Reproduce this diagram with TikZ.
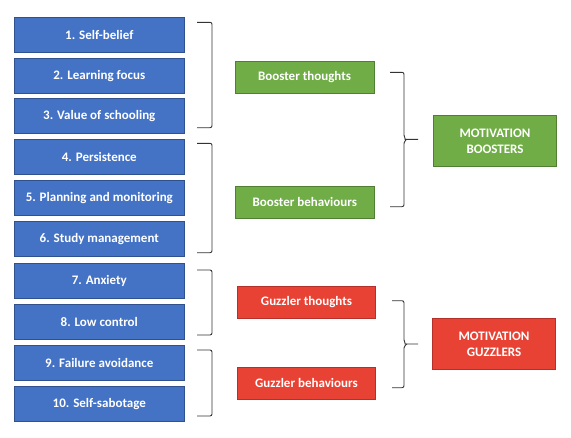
\documentclass[tikz,border=0pt]{standalone}
\usepackage{fontspec}
\setmainfont{Carlito}
\usetikzlibrary{calc}
\definecolor{bfill}{HTML}{4472C4}
\definecolor{bline}{HTML}{2F528F}
\definecolor{gfill}{HTML}{70AD47}
\definecolor{gline}{HTML}{507E32}
\definecolor{rfill}{HTML}{E84234}
\definecolor{rline}{HTML}{B5302A}
\definecolor{brc}{HTML}{333333}
\tikzset{
  base/.style={draw, line width=0.8pt, text=white, font=\bfseries\fontsize{13}{16}\selectfont, inner sep=0pt, align=center},
  factor/.style={base, fill=bfill, draw=bline, minimum width=170.5pt, minimum height=35pt},
  gmid/.style={base, fill=gfill, draw=gline, minimum width=139pt, minimum height=32pt},
  rmid/.style={base, fill=rfill, draw=rline, minimum width=138.5pt, minimum height=32.5pt},
  gbig/.style={base, fill=gfill, draw=gline, minimum width=123.5pt, minimum height=51.5pt},
  rbig/.style={base, fill=rfill, draw=rline, minimum width=123.5pt, minimum height=51pt},
  bracket/.style={draw=brc, line width=0.9pt, rounded corners=2pt},
}
\begin{document}
\begin{tikzpicture}[x=1pt,y=-1pt]
\useasboundingbox (0,0) rectangle (571,437);
\node[factor] (f1) at (99.3,34.8) {1. Self-belief};
\node[factor] (f2) at (99.3,75.8) {2. Learning focus};
\node[factor] (f3) at (99.3,115.8) {3. Value of schooling};
\node[factor] (f4) at (99.3,156.8) {4. Persistence};
\node[factor] (f5) at (99.3,197.8) {5. Planning and monitoring};
\node[factor] (f6) at (99.3,238.9) {6. Study management};
\node[factor] (f7) at (99.3,280.8) {7. Anxiety};
\node[factor] (f8) at (99.3,321.8) {8. Low control};
\node[factor] (f9) at (99.3,362.8) {9. Failure avoidance};
\node[factor] (f10) at (99.3,403.8) {10. Self-sabotage};

\node[gmid] (bt) at (304.5,77.5) {Booster thoughts};
\node[gmid] (bb) at (304.8,202.2) {Booster behaviours};
\node[rmid] (gt) at (306.5,302.3) {Guzzler thoughts};
\node[rmid] (gb) at (306.5,383.3) {Guzzler behaviours};

\node[gbig] (mb) at (495,140.8) {MOTIVATION\\BOOSTERS};
\node[rbig] (mg) at (494,343.8) {MOTIVATION\\GUZZLERS};

% left brackets
\coordinate (a1) at (197,22.3);  \coordinate (a2) at (197,127.7);
\coordinate (b1) at (197,143.3); \coordinate (b2) at (197,252.7);
\coordinate (c1) at (197,270);   \coordinate (c2) at (197,335);
\coordinate (d1) at (197,350);   \coordinate (d2) at (197,416);
\foreach \p/\q in {a1/a2,b1/b2,c1/c2,d1/d2}{
  \draw[bracket] (\p) -- ++(15,0) |- (\q);
}
% right braces
\coordinate (t1) at (390,72.3);  \coordinate (u1) at (390,206.7);
\coordinate (t2) at (392,300.7); \coordinate (u2) at (392,387.7);
\draw[bracket] (t1) -- (404,72.3) -- (404,137) to[out=90,in=180] (407,139.3) -- (418,139.3);
\draw[bracket] (u1) -- (404,206.7) -- (404,141.6) to[out=-90,in=180] (407,139.3);
\draw[bracket] (t2) -- (404,300.7) -- (404,341.7) to[out=90,in=180] (407,344) -- (418,344);
\draw[bracket] (u2) -- (404,387.7) -- (404,346.3) to[out=-90,in=180] (407,344);
\end{tikzpicture}
\end{document}
